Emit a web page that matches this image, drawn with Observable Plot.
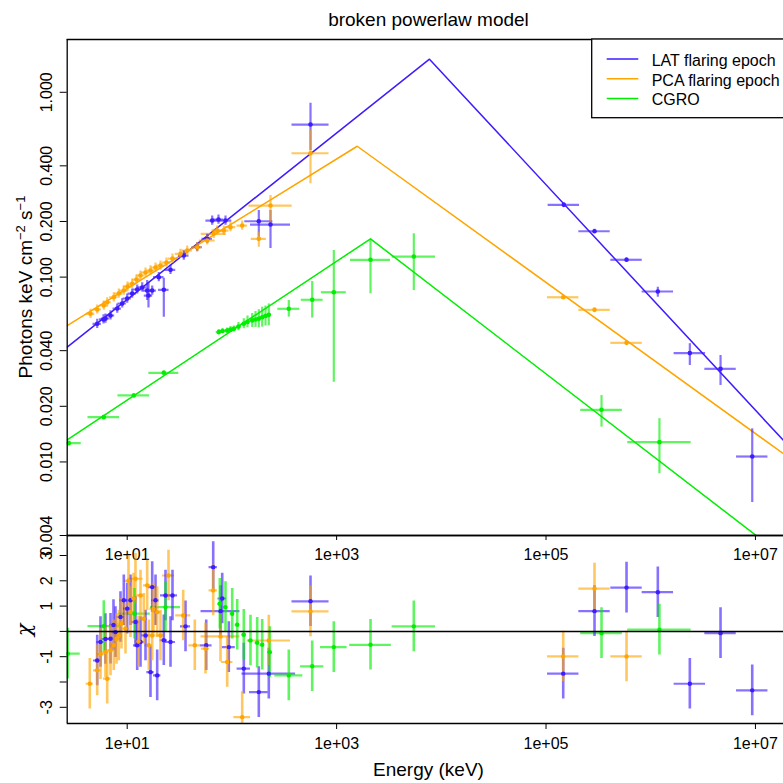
<!DOCTYPE html>
<html><head><meta charset="utf-8">
<script src="https://cdn.jsdelivr.net/npm/d3@7"></script>
<script src="https://cdn.jsdelivr.net/npm/@observablehq/plot@0.6"></script>
<style>
html,body{margin:0;padding:0;background:#fff;}
#wrap{position:relative;width:783px;height:783px;overflow:hidden;font-family:"Liberation Sans",Arial,Helvetica,sans-serif;color:#000;}
#wrap svg{position:absolute;left:0;}
</style></head><body><div id="wrap"></div>
<script>
// ---------- axis ticks ----------
const xTicks = [10, 1e3, 1e5, 1e7];
const xTickLabels = ["1e+01", "1e+03", "1e+05", "1e+07"];
const fluxTicks = [1, 0.4, 0.2, 0.1, 0.04, 0.02, 0.01, 0.004];
const fluxTickLabels = ["1.000", "0.400", "0.200", "0.100", "0.040", "0.020", "0.010", "0.004"];
const chiTicks = [-3, -2, -1, 0, 1, 2, 3];
const chiLabelTicks = [-3, -1, 1, 2, 3];
const chiTickLabels = ["-3", "-1", "1", "2", "3"];
const xDomain = [2.673, 2.21e7];
const fluxDomain = [0.004, 1.93];
const chiDomain = [-3.64, 3.79];

// ---------- series ----------
const seriesNames = ["LAT flaring epoch", "PCA flaring epoch", "CGRO"];
const seriesColors = ["#3d1cff", "#ffa500", "#00ee00"];

// ---------- broken power-law models (start, break, end) ----------
const latModelE = [2.673, 7709, 2.21e7];
const latModelF = [0.0418, 1.51, 0.01174];
const pcaModelE = [2.673, 1573, 2.21e7];
const pcaModelF = [0.0547, 0.5105, 0.0103];
const cgroModelE = [2.673, 2108, 2.21e7];
const cgroModelF = [0.01318, 0.1611, 0.00285];

// ---------- spectra: energy, half-width (dex), flux, down/up error (dex) ----------
const latE = [5.17, 5.94, 6.20, 6.93, 8.03, 8.96, 10.0, 11.16, 12.46, 13.91, 15.52, 15.97, 17.33, 20.04, 22.37, 25.92, 34.72, 46.62, 58.09, 64.84, 74.47, 86.87, 180.7, 233.7, 563.3, 1.479e5, 2.905e5, 5.873e5, 1.169e6, 2.363e6, 4.642e6, 9.32e6];
const latEdex = [.04, .04, .04, .04, .04, .04, .04, .04, .04, .04, .04, .04, .04, .05, .05, .05, .05, .05, .05, .06, .05, .06, .134, .191, .177, .15, .15, .15, .15, .15, .15, .15];
const latF = [.0559, .0590, .0597, .0620, .0676, .0720, .0766, .0815, .0857, .0879, .0846, .0795, .0846, .0999, .0854, .1095, .1308, .1451, .1611, .2023, .2049, .2023, .2006, .1925, .6689, .2460, .1771, .1241, .0836, .0388, .0319, .0107];
const latFdown = [.025, .025, .025, .025, .025, .025, .025, .025, .025, .025, .054, .068, .025, .025, .148, .025, .025, .025, .025, .025, .025, .025, .087, .13, .141, .011, .011, .011, .031, .067, .09, .249];
const latFup = [.025, .025, .025, .025, .025, .025, .025, .025, .025, .025, .054, .068, .025, .025, .063, .025, .025, .025, .025, .025, .025, .025, .058, .076, .115, .011, .011, .011, .023, .051, .072, .15];

const pcaE = [4.462, 5.17, 5.977, 6.442, 7.447, 8.313, 9.280, 10.07, 11.16, 12.27, 13.40, 14.96, 16.69, 18.64, 20.80, 23.73, 27.08, 32.30, 37.42, 46.62, 58.09, 67.16, 72.36, 83.68, 96.96, 125.4, 180.7, 233.7, 563.3, 1.46e5, 2.905e5, 5.873e5];
const pcaEdex = [.04, .04, .04, .04, .04, .04, .04, .04, .04, .04, .04, .04, .04, .04, .04, .04, .04, .05, .05, .05, .076, .12, .05, .05, .05, .05, .072, .207, .177, .15, .15, .15];
const pcaF = [.0633, .0668, .0702, .0731, .0778, .0815, .0846, .0889, .0920, .0970, .1020, .1059, .1086, .1127, .1155, .1199, .1260, .1337, .1393, .1451, .1578, .1715, .1786, .1786, .1862, .1901, .1611, .2439, .4679, .0778, .0665, .0441];
const pcaFdown = [.025, .025, .025, .025, .025, .025, .025, .025, .025, .025, .025, .025, .025, .025, .025, .025, .025, .025, .025, .025, .025, .025, .025, .025, .025, .025, .045, .099, .165, .011, .011, .011];
const pcaFup = [.025, .025, .025, .025, .025, .025, .025, .025, .025, .025, .025, .025, .025, .025, .025, .025, .025, .025, .025, .025, .025, .025, .025, .025, .025, .025, .036, .054, .123, .011, .011, .011];

const cgroE = [2.768, 5.977, 11.56, 22.37, 74.98, 81.33, 90.19, 96.96, 104.3, 115.6, 129.9, 140.9, 156.3, 168.1, 180.7, 194.7, 209.4, 225.1, 349.5, 584.7, 940.4, 2108, 5462, 3.389e5, 1.211e6];
const cgroEdex = [.119, .151, .151, .143, .025, .025, .025, .025, .025, .025, .025, .025, .025, .025, .025, .025, .025, .025, .105, .104, .119, .191, .207, .199, .303];
const cgroF = [.01264, .01747, .02289, .03037, .0504, .0511, .0514, .0521, .0525, .0540, .0559, .0572, .0582, .0590, .0595, .0607, .0616, .0625, .0674, .0754, .0828, .1241, .1292, .01915, .0128];
const cgroFdown = [.011, .011, .011, .011, .014, .014, .014, .016, .016, .022, .027, .032, .038, .043, .049, .054, .054, .059, .045, .099, .487, .184, .184, .094, .171];
const cgroFup = [.011, .011, .011, .011, .014, .014, .014, .016, .016, .022, .027, .032, .038, .043, .049, .054, .054, .059, .045, .099, .226, .104, .123, .077, .127];

// ---------- residuals: energy, half-width (dex), chi ----------
const chiErr = 1;
const latResE = [5.17, 5.559, 6.20, 6.93, 7.397, 7.731, 8.630, 9.280, 10.0, 10.75, 12.0, 12.46, 13.40, 14.96, 16.69, 17.33, 18.64, 19.34, 22.37, 23.22, 25.92, 27.08, 36.06, 56.83, 66.30, 77.83, 80.8, 93.42, 129.9, 180.7, 225.1, 563.3, 1.46e5, 2.905e5, 5.873e5, 1.169e6, 2.363e6, 4.642e6, 9.32e6];
const latResEdex = [.035, .035, .035, .035, .035, .035, .035, .035, .035, .035, .035, .035, .035, .035, .035, .035, .035, .035, .035, .048, .048, .048, .048, .056, .040, .186, .040, .062, .064, .089, .256, .177, .15, .15, .15, .15, .15, .15, .15];
const latResChi = [-1.15, -0.42, -0.30, -0.29, 0.25, -0.03, 0.57, 1.23, 0.90, 1.23, 0.37, -0.55, -0.42, -0.16, -1.61, 1.75, 1.23, -1.74, -0.35, 1.42, -0.42, 1.42, 0.20, -0.55, 2.54, 0.80, 1.30, -0.62, -1.47, -2.40, -1.67, 1.19, -1.67, 0.80, 1.73, 1.55, -2.07, -0.07, -2.33];

const pcaResE = [4.393, 5.17, 5.559, 6.20, 6.442, 6.93, 7.447, 7.904, 8.313, 8.822, 9.634, 10.29, 10.75, 11.49, 12.00, 12.82, 13.40, 14.41, 15.52, 16.08, 17.33, 17.83, 19.34, 20.80, 24.80, 34.27, 44.23, 55.96, 66.30, 77.83, 90.19, 125.4, 225.1, 563.3, 1.46e5, 2.905e5, 5.873e5];
const pcaResEdex = [.035, .035, .035, .035, .035, .035, .035, .035, .035, .035, .035, .035, .035, .035, .072, .035, .035, .035, .035, .035, .035, .035, .035, .035, .057, .072, .057, .04, .04, .186, .055, .08, .207, .177, .15, .15, .15];
const pcaResChi = [-2.07, -1.54, -0.90, -0.82, -1.87, -0.75, -0.55, -0.30, -0.16, 0.30, 0.11, 2.00, 0.76, 1.30, 2.08, -0.40, 1.42, 0.50, 1.82, -0.55, -0.16, 0.90, 0.76, -0.16, 2.21, 0.63, -0.55, -0.68, 1.62, -0.20, -1.21, -3.39, -0.36, 0.79, -0.99, 1.69, -0.99];

const cgroResE = [2.708, 5.977, 11.74, 23.22, 76.64, 86.87, 100.7, 112.4, 129.9, 150.5, 174.4, 194.7, 230.1, 349.5, 584.7, 940.4, 2108, 5462, 3.389e5, 1.211e6];
const cgroResEdex = [.119, .151, .151, .143, .02, .02, .02, .02, .02, .02, .02, .02, .02, .134, .111, .127, .199, .207, .199, .303];
const cgroResChi = [-0.88, 0.21, 0.70, 0.96, 1.09, 0.96, 0.70, 0.26, -0.13, -0.36, -0.45, -0.53, -0.82, -1.74, -1.38, -0.62, -0.53, 0.20, -0.07, 0.07];

// ---------- build tables ----------
function pts(series, E, Ed, F, Fd, Fu) {
  return E.map((e, i) => ({series, e, e1: e / 10 ** Ed[i], e2: e * 10 ** Ed[i], f: F[i], f1: F[i] / 10 ** Fd[i], f2: F[i] * 10 ** Fu[i]}));
}
function res(series, E, Ed, C) {
  return E.map((e, i) => ({series, e, e1: e / 10 ** Ed[i], e2: e * 10 ** Ed[i], c: C[i], c1: C[i] - chiErr, c2: C[i] + chiErr}));
}
function model(series, E, F) { return E.map((e, i) => ({series, e, f: F[i]})); }

const spec = [
  ...pts(seriesNames[0], latE, latEdex, latF, latFdown, latFup),
  ...pts(seriesNames[1], pcaE, pcaEdex, pcaF, pcaFdown, pcaFup),
  ...pts(seriesNames[2], cgroE, cgroEdex, cgroF, cgroFdown, cgroFup)
];
const models = [
  ...model(seriesNames[0], latModelE, latModelF),
  ...model(seriesNames[1], pcaModelE, pcaModelF),
  ...model(seriesNames[2], cgroModelE, cgroModelF)
];
const resid = [
  ...res(seriesNames[0], latResE, latResEdex, latResChi),
  ...res(seriesNames[1], pcaResE, pcaResEdex, pcaResChi),
  ...res(seriesNames[2], cgroResE, cgroResEdex, cgroResChi)
];

const FONT = "Liberation Sans, Arial, Helvetica, sans-serif";
const svgStyle = {fontFamily: FONT, background: "transparent", overflow: "visible", maxWidth: "none"};
const colorScale = {domain: seriesNames, range: seriesColors};
const fx = d => xTickLabels[xTicks.indexOf(d)];
const W = 791, ML = 66.7;
const barOpts = {strokeWidth: 2.2, strokeOpacity: 0.62, clip: true};

// ---------- top panel ----------
const topPlot = Plot.plot({
  width: W, height: 560, marginTop: 39, marginBottom: 25, marginLeft: ML, marginRight: 0,
  style: svgStyle,
  x: {type: "log", domain: xDomain},
  y: {type: "log", domain: fluxDomain},
  color: colorScale,
  marks: [
    Plot.line(models, {x: "e", y: "f", z: "series", stroke: "series", strokeWidth: 1.5, clip: true}),
    Plot.ruleY(spec, {y: "f", x1: "e1", x2: "e2", stroke: "series", ...barOpts}),
    Plot.ruleX(spec, {x: "e", y1: "f1", y2: "f2", stroke: "series", ...barOpts}),
    Plot.dot(spec, {x: "e", y: "f", r: 2.3, fill: "series", clip: true}),
    Plot.ruleX([xDomain[0]], {stroke: "black", strokeWidth: 1.3}),
    Plot.ruleY([fluxDomain[0], fluxDomain[1]], {stroke: "black", strokeWidth: 1.3}),
    Plot.axisX({ticks: xTicks, tickFormat: fx, tickSize: 5, tickPadding: 8, fontSize: 16, label: null, anchor: "bottom"}),
    Plot.axisY({ticks: fluxTicks, tickFormat: () => "", tickSize: 7, label: null, anchor: "left"}),
    Plot.text(fluxTicks, {y: d => d, text: (d, i) => fluxTickLabels[i], frameAnchor: "left", dx: -14.7, rotate: -90, textAnchor: "middle", lineAnchor: "bottom", fontSize: 16})
  ]
});
topPlot.style.top = "0px";

// ---------- bottom panel ----------
const botPlot = Plot.plot({
  width: W, height: 260, marginTop: 12, marginBottom: 60, marginLeft: ML, marginRight: 0,
  style: svgStyle,
  x: {type: "log", domain: xDomain},
  y: {domain: chiDomain},
  color: colorScale,
  marks: [
    Plot.ruleY(resid, {y: "c", x1: "e1", x2: "e2", stroke: "series", ...barOpts}),
    Plot.ruleX(resid, {x: "e", y1: "c1", y2: "c2", stroke: "series", ...barOpts, strokeWidth: 2.6}),
    Plot.dot(resid, {x: "e", y: "c", r: 2.2, fill: "series", clip: true}),
    Plot.ruleY([0], {stroke: "black", strokeWidth: 1.5}),
    Plot.ruleX([xDomain[0]], {stroke: "black", strokeWidth: 1.3}),
    Plot.ruleY([chiDomain[0], chiDomain[1]], {stroke: "black", strokeWidth: 1.3}),
    Plot.axisX({ticks: xTicks, tickFormat: fx, tickSize: 6, tickPadding: 8, fontSize: 16, label: null, anchor: "bottom"}),
    Plot.axisY({ticks: chiTicks, tickFormat: () => "", tickSize: 7, label: null, anchor: "left"}),
    Plot.text(chiLabelTicks, {y: d => d, text: (d, i) => chiTickLabels[i], frameAnchor: "left", dx: -14.7, rotate: -90, textAnchor: "middle", lineAnchor: "bottom", fontSize: 16})
  ]
});
botPlot.style.top = "523px";

const wrap = document.getElementById("wrap");
wrap.appendChild(topPlot);
wrap.appendChild(botPlot);

// ---------- annotations ----------
const st = d3.select(topPlot);
st.append("text").attr("x", 428.5).attr("y", 26).attr("text-anchor", "middle")
  .attr("font-size", 19).attr("fill", "black").text("broken powerlaw model");
const yt = st.append("text").attr("transform", "translate(32,287) rotate(-90)")
  .attr("text-anchor", "middle").attr("font-size", 19).attr("fill", "black");
yt.append("tspan").text("Photons keV cm");
yt.append("tspan").attr("dy", -7).attr("font-size", 13).text("\u22122");
yt.append("tspan").attr("dy", 7).text(" s");
yt.append("tspan").attr("dy", -7).attr("font-size", 13).text("\u22121");

const lg = st.append("g");
lg.append("rect").attr("x", 591.7).attr("y", 39).attr("width", 230).attr("height", 78.7)
  .attr("fill", "white").attr("stroke", "black").attr("stroke-width", 1.3);
seriesNames.forEach((n, i) => {
  const y = 59 + i * 19.8;
  lg.append("line").attr("x1", 606.7).attr("x2", 638.3).attr("y1", y).attr("y2", y)
    .attr("stroke", seriesColors[i]).attr("stroke-width", 1.5);
  lg.append("text").attr("x", 651.7).attr("y", y + 6.7).attr("font-size", 16)
    .attr("text-anchor", "start").attr("fill", "black").text(n);
});

const sb = d3.select(botPlot);
sb.append("text").attr("x", 428.5).attr("y", 253).attr("text-anchor", "middle")
  .attr("font-size", 19).attr("fill", "black").text("Energy (keV)");
sb.append("text").attr("transform", "translate(31,107) rotate(-90)").attr("text-anchor", "middle")
  .attr("font-size", 21).attr("font-family", "DejaVu Serif, serif").attr("font-style", "italic").attr("fill", "black").text("\u03c7");
</script></body></html>
